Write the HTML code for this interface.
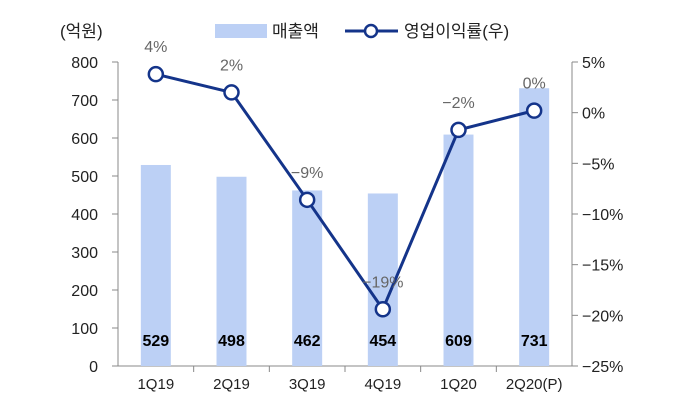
<!DOCTYPE html>
<html><head><meta charset="utf-8"><style>
body{margin:0;background:#fff}
svg text{font-family:"Liberation Sans","Noto Sans CJK KR",sans-serif}
</style></head><body>
<svg width="680" height="411" id="c">
<text x="60" y="37" font-size="17" fill="#222">(억원)</text>
<g>
<rect x="215" y="24" width="52" height="14" fill="#bcd0f5"/>
<text x="272" y="37" font-size="17" fill="#222">매출액</text>
<line x1="345" y1="31" x2="398" y2="31" stroke="#14348a" stroke-width="3"/>
<circle cx="371" cy="31" r="6" fill="#fff" stroke="#14348a" stroke-width="2.5"/>
<text x="404" y="37" font-size="17" fill="#222">영업이익률(우)</text>
</g>
<g id="g"></g>
</svg>
<script>
const categories=["1Q19","2Q19","3Q19","4Q19","1Q20","2Q20(P)"];
const revenue=[529,498,462,454,609,731];
const margin=[3.8,2.0,-8.6,-19.4,-1.7,0.2];
const marginLabels=["4%","2%","\u22129%","\u221219%","\u22122%","0%"];
const leftTicks=[0,100,200,300,400,500,600,700,800];
const rightTicks=[5,0,-5,-10,-15,-20,-25];
const rightTickLabels=["5%","0%","\u22125%","\u221210%","\u221215%","\u221220%","\u221225%"];
const L=118,R=572,T=62,B=366;
const NS="http://www.w3.org/2000/svg",g=document.getElementById('g');
function el(t,a,txt){const e=document.createElementNS(NS,t);for(const k in a)e.setAttribute(k,a[k]);if(txt!=null)e.textContent=txt;g.appendChild(e);return e;}
const x=i=>L+(i+0.5)*(R-L)/categories.length;
const yL=v=>B-(v/800)*(B-T);
const yR=v=>T+(5-v)/30*(B-T);
// axes
let e=el('line',{x1:L,y1:T,x2:L,y2:B,stroke:'#888'});


e=el('line',{x1:R,y1:T,x2:R,y2:B,stroke:'#888'});


e=el('line',{x1:L,y1:B,x2:R,y2:B,stroke:'#888'});


leftTicks.forEach(v=>{
 el('line',{x1:L-6,y1:yL(v),x2:L,y2:yL(v),stroke:'#888'});
 e=el('text',{x:L-20,y:yL(v)+6,'font-size':16,'text-anchor':'end',fill:'#222'},v);
 
 
});
rightTicks.forEach((v,i)=>{
 el('line',{x1:R,y1:yR(v),x2:R+6,y2:yR(v),stroke:'#888'});
 e=el('text',{x:R+10,y:yR(v)+6,'font-size':16,fill:'#222'},rightTickLabels[i]);
 
 
});
categories.forEach((c,i)=>{
 if(i>0){el('line',{x1:L+i*(R-L)/6,y1:B,x2:L+i*(R-L)/6,y2:B+6,stroke:'#888'});}
 e=el('text',{x:x(i),y:B+23,'font-size':15,'text-anchor':'middle',fill:'#222'},c);
 
 
});
revenue.forEach((v,i)=>{
 e=el('rect',{x:x(i)-15,y:yL(v),width:30,height:B-yL(v),fill:'#bcd0f5'});
 
 
 e=el('text',{x:x(i),y:B-20,'font-size':16,'font-weight':'bold','text-anchor':'middle',fill:'#000'},v);
 
 
});
e=el('polyline',{points:margin.map((v,i)=>x(i)+','+yR(v)).join(' '),fill:'none',stroke:'#14348a','stroke-width':3});


margin.forEach((v,i)=>{
 e=el('circle',{cx:x(i),cy:yR(v),r:7,fill:'#fff',stroke:'#14348a','stroke-width':2.5});
 
 
 e=el('text',{x:x(i),y:yR(v)-22,'font-size':16,'text-anchor':'middle',fill:'#666'},marginLabels[i]);
 
 
});
</script>
</body></html>
